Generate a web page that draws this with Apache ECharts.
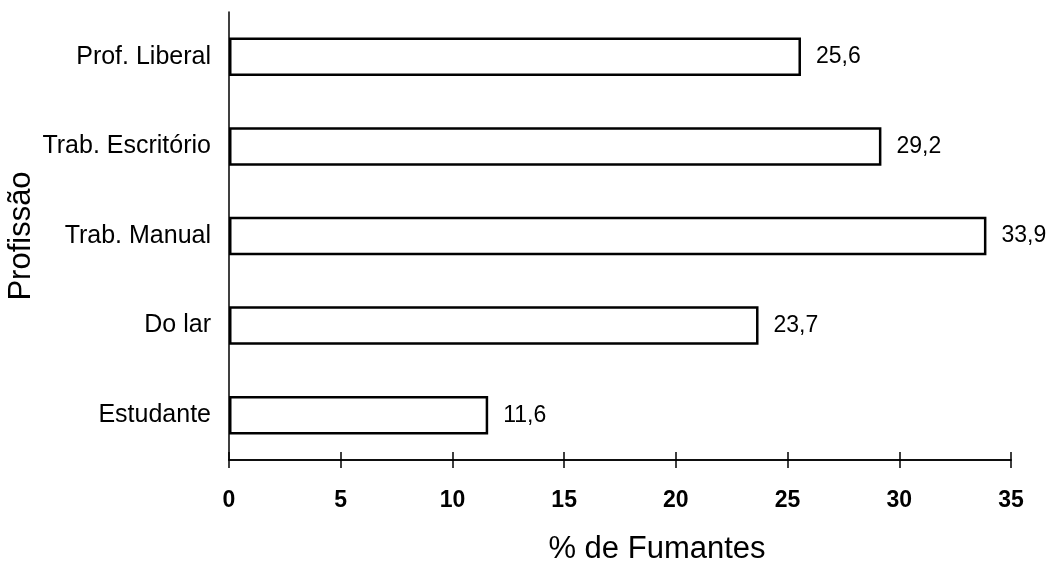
<!DOCTYPE html>
<html><head><meta charset="utf-8">
<script src="https://cdn.jsdelivr.net/npm/echarts@6/dist/echarts.min.js"></script>
<style>html,body{margin:0;padding:0;background:#fff}#c{width:1049px;height:572px}</style>
</head><body><div id="c"></div>
<script>
const categories = ["Estudante", "Do lar", "Trab. Manual", "Trab. Escritório", "Prof. Liberal"];
const values = [11.6, 23.7, 33.9, 29.2, 25.6];
const xTicks = [0, 5, 10, 15, 20, 25, 30, 35];

const font = "'Liberation Sans', Arial, sans-serif";
const chart = echarts.init(document.getElementById('c'), null, {renderer: 'canvas'});
const fmt = v => String(v).replace('.', ',');
const baseX = {
  type: 'value', min: xTicks[0], max: xTicks[xTicks.length - 1], interval: 5,
  position: 'bottom', splitLine: {show: false},
  axisLine: {show: true, lineStyle: {color: '#000', width: 1.5}}
};
chart.setOption({
  animation: false,
  backgroundColor: '#fff',
  grid: {left: 229, right: 38, top: 12, bottom: 112, containLabel: false, outerBoundsMode: 'none'},
  xAxis: [
    Object.assign({}, baseX, {
      name: '% de Fumantes', nameLocation: 'middle', nameGap: 74, nameMoveOverlap: false,
      nameTextStyle: {fontFamily: font, fontSize: 31, color: '#000', letterSpacing: -0.8, padding: [0, 0, 0, 74]},
      axisTick: {show: true, inside: false, length: 8, lineStyle: {color: '#000', width: 1.5}},
      axisLabel: {fontFamily: font, fontSize: 23, color: '#000', fontWeight: 'bold', margin: 29}
    }),
    Object.assign({}, baseX, {
      axisTick: {show: true, inside: true, length: 8, lineStyle: {color: '#000', width: 1.5}},
      axisLabel: {show: false}
    })
  ],
  yAxis: {
    type: 'category', data: categories,
    name: 'Profissão', nameLocation: 'middle', nameGap: 192, nameRotate: 90, nameMoveOverlap: false,
    nameTextStyle: {fontFamily: font, fontSize: 31, color: '#000'},
    axisLine: {show: true, lineStyle: {color: '#000', width: 1.5}},
    axisTick: {show: false},
    axisLabel: {fontFamily: font, fontSize: 25, color: '#000', margin: 18, letterSpacing: -1.3}
  },
  series: [{
    type: 'bar', data: values, xAxisIndex: 0, barWidth: '43%',
    itemStyle: {color: '#fff', borderColor: '#000', borderWidth: 2.5},
    label: {show: true, position: 'right', distance: 15, formatter: p => fmt(p.value),
      fontFamily: font, fontSize: 23, color: '#000', letterSpacing: -0.6}
  }]
});
</script></body></html>
